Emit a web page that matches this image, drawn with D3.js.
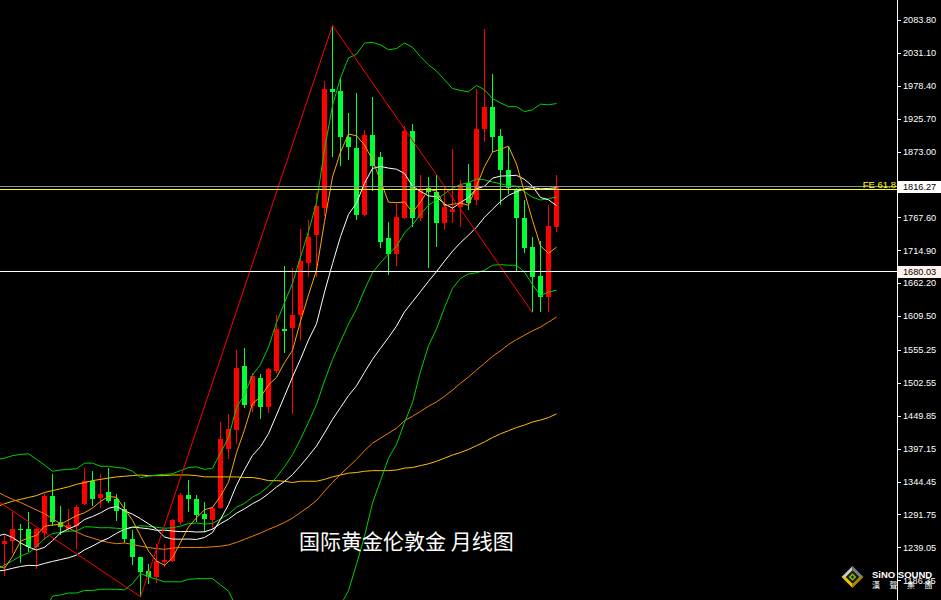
<!DOCTYPE html>
<html><head><meta charset="utf-8">
<script src="https://cdn.jsdelivr.net/npm/d3@7"></script>
<style>html,body{margin:0;padding:0;background:#000;overflow:hidden}</style>
</head><body>
<svg id="chart" width="941" height="600"></svg>
<script>
// ---- candle data (monthly, index 0..69) ----
const opens  = [1245,1249,1268,1268,1240,1262,1322,1279,1268,1273,1308,1346,1318,1327,1316,1300,1253,1224,1201,1192,1216,1218,1279,1323,1316,1292,1283,1302,1397,1427,1530,1465,1511,1464,1522,1589,1590,1611,1694,1740,1783,1974,1970,1897,1879,1772,1900,1864,1735,1709,1767,1906,1767,1815,1809,1758,1777,1785,1822,1795,1909,1944,1898,1844,1811,1766,1721,1673,1640,1753];
const highs  = [1261,1295,1276,1296,1270,1326,1357,1306,1300,1307,1366,1361,1357,1366,1325,1311,1267,1224,1212,1244,1245,1284,1326,1347,1323,1311,1304,1440,1453,1555,1558,1518,1516,1526,1611,1690,1687,1749,1764,1806,1986,2074,1991,1935,1967,1908,1960,1872,1761,1790,1914,1917,1835,1833,1835,1816,1877,1827,1853,1974,2070,1998,1910,1881,1815,1796,1736,1730,1788,1836];
const lows   = [1194,1230,1214,1232,1205,1251,1274,1259,1264,1236,1307,1306,1302,1310,1282,1246,1211,1160,1181,1182,1208,1216,1275,1295,1280,1264,1267,1300,1381,1405,1462,1456,1445,1454,1519,1550,1452,1571,1672,1672,1770,1864,1850,1860,1764,1770,1810,1718,1676,1690,1765,1752,1762,1687,1721,1747,1758,1753,1780,1787,1889,1873,1787,1805,1680,1710,1616,1616,1616,1745];
const closes = [1249,1268,1267,1239,1269,1321,1279,1271,1275,1303,1345,1316,1325,1313,1298,1253,1223,1200,1192,1218,1219,1283,1323,1316,1291,1284,1302,1412,1429,1527,1467,1513,1464,1524,1589,1585,1611,1697,1736,1786,1974,1969,1896,1881,1772,1900,1850,1729,1709,1768,1906,1767,1811,1809,1758,1785,1781,1820,1791,1909,1944,1897,1844,1814,1766,1718,1672,1640,1754,1816.27];

// ---- indicator lines (values for index -1..69) ----
const lineStart = -1;
const ma5  = [1211.2,1205.6,1224.6,1248.8,1254.4,1258.4,1272.8,1275,1275.8,1283,1289.8,1294.6,1302,1312.8,1320.4,1319.4,1301,1282.4,1257.4,1233.2,1217.2,1210.4,1222.4,1247,1271.8,1286.4,1299.4,1303.2,1321,1343.6,1390.8,1427.4,1469.6,1480,1499,1511.4,1535,1554.6,1601.2,1643.6,1683,1760.8,1832.4,1872.2,1901.2,1898.4,1883.6,1859.8,1826.4,1792,1791.2,1792.4,1775.8,1792.2,1812.2,1810.2,1786,1788.8,1790.6,1787,1817.2,1849,1872.2,1877,1881.6,1853,1807.8,1762.8,1722,1710,1720];
const ma10 = [1256.9,1260.3,1254.9,1246.5,1239.5,1234.8,1239.2,1249.8,1262.3,1268.7,1274.1,1283.7,1288.5,1294.3,1301.7,1304.6,1297.8,1292.2,1285.1,1276.8,1268.3,1255.7,1252.4,1252.2,1252.5,1251.8,1254.9,1262.8,1284,1307.7,1338.6,1363.4,1386.4,1400.5,1421.3,1451.1,1481.2,1512.1,1540.6,1571.3,1597.2,1647.9,1693.5,1736.7,1772.4,1790.7,1822.2,1846.1,1849.3,1846.6,1844.8,1838,1817.8,1809.3,1802.1,1800.7,1789.2,1782.3,1791.4,1799.6,1813.7,1817.5,1830.5,1833.8,1834.3,1835.1,1828.4,1817.5,1799.5,1795.8,1786.5];
const ma20 = [1203.1,1210.8,1217.6,1225.2,1230,1240.2,1253.2,1261.3,1262.9,1265,1265.5,1272,1271.7,1270.4,1270.6,1269.7,1268.5,1271,1273.7,1272.8,1271.2,1269.7,1270.5,1273.3,1277.1,1278.2,1276.4,1277.5,1284.6,1292.3,1303.5,1309.6,1319.4,1326.4,1336.9,1351.5,1368.1,1387.5,1412.3,1439.5,1467.9,1505.7,1540,1568.6,1596.9,1620.9,1651.7,1679.1,1695,1709,1721,1743,1755.7,1773,1787.3,1795.7,1805.7,1814.2,1820.4,1823.1,1829.3,1827.8,1824.2,1821.6,1818.2,1817.9,1808.8,1799.9,1795.5,1797.7,1800.1];
const ma30 = [1201.1,1202.4,1205.6,1208.5,1210.3,1209.8,1213.4,1216.6,1219.5,1222.4,1226.7,1235.1,1241.2,1248.2,1253.9,1261.7,1268.1,1271.6,1270.3,1268.9,1266.4,1266.6,1265.3,1264.3,1264.6,1263.7,1264,1268.3,1277.1,1284.4,1293.7,1300.9,1309.1,1315.7,1325.2,1335.8,1344.6,1355.7,1369.9,1385.3,1401.4,1422.3,1444.1,1463.1,1482.1,1497.9,1519.4,1540.3,1558,1575.2,1593.5,1616.4,1632.6,1648.8,1665.3,1680.8,1697.5,1713.5,1727.1,1739.2,1751.9,1767.8,1780.6,1793.3,1802.9,1808.8,1813.3,1815.3,1813.4,1814,1815];
const ma60 = [1329,1322,1316,1311,1305,1299,1293,1285,1277,1270,1264,1258,1254,1250,1247,1245,1246,1244,1241,1239,1237,1236,1238,1239,1239,1239,1239,1240,1241,1243,1247,1252,1257,1262,1268,1273,1279,1286,1295,1304,1314,1329,1343,1356,1368,1380,1394,1406,1414,1422,1430,1442,1449,1457,1465,1472,1481,1491,1502,1512,1523,1534,1545,1554,1564,1572,1579,1586,1592,1600,1608];
const ma100 = [1304,1309,1313,1316,1319,1322,1327,1330,1333,1336,1340,1343,1346,1348,1350,1352,1353,1354,1355,1354,1354,1354,1355,1355,1355,1354,1352,1352,1352,1352,1352,1351,1351,1349,1346,1346,1345,1343,1345,1345,1345,1348,1352,1355,1358,1359,1361,1362,1362,1362,1363,1366,1367,1370,1373,1377,1382,1387,1391,1396,1402,1408,1415,1421,1426,1431,1435,1440,1443,1447,1453];
const bbUpper = [1380,1382,1386,1388,1389,1380,1371,1361,1363,1364,1365,1374,1374,1369,1369,1367,1366,1361,1351,1353,1355,1356,1357,1362,1367,1368,1364,1366,1390,1415,1463,1484,1515,1532,1560,1599,1631,1662,1704,1745,1791,1876,1947,1991,2023,2029,2047,2048,2044,2036,2038,2047,2040,2025,2012,2002,1988,1974,1971,1969,1979,1972,1958,1951,1945,1945,1937,1940,1949,1948,1950];
const bbLower = [1026,1040,1049,1062,1071,1100,1136,1161,1163,1166,1166,1170,1170,1172,1172,1172,1171,1181,1197,1192,1188,1184,1184,1184,1188,1189,1189,1189,1179,1169,1143,1135,1124,1121,1114,1104,1105,1113,1121,1134,1145,1135,1133,1146,1170,1212,1257,1310,1346,1382,1404,1439,1471,1521,1562,1589,1623,1654,1670,1677,1679,1683,1691,1692,1691,1691,1680,1660,1642,1648,1651];

// ---- Fibonacci drawing (red zig-zag) ----
const feIndex = [-8, 17, 41, 66];
const feValue = [1375, 1160, 2075, 1615];
const feLevelValue = 1812;
const feLabel = "FE 61.8";

// ---- horizontal levels & axis ----
const bidPrice = 1816.27;
const supportPrice = 1680.03;
const tickValues = [2083.80,2031.10,1978.40,1925.70,1873.00,1767.60,1714.90,1662.20,1609.50,1555.25,1502.55,1449.85,1397.15,1344.45,1291.75,1239.05,1186.35];
const titleText = "国际黄金伦敦金 月线图";
const logoText = "SiNO SOUND";
const logoSub = ["漢","聲","集","團"];

// ---- drawing ----
const W = 941, H = 600, axisX = 897;
const svg = d3.select("#chart");
svg.append("rect").attr("width", W).attr("height", H).attr("fill", "#000");

const x = d3.scaleLinear().domain([0, 69]).range([4.5, 556.5]);
const y = d3.scaleLinear().domain([1186.35, 2083.8]).range([580.3, 20]);

svg.append("defs").append("clipPath").attr("id", "plot")
  .append("rect").attr("x", 0).attr("y", 0).attr("width", axisX).attr("height", H);
const plot = svg.append("g").attr("clip-path", "url(#plot)");

const UP = "#ff0000", DOWN = "#00ff33";
const candles = d3.range(closes.length).map(i => ({i, o: opens[i], h: highs[i], l: lows[i], c: closes[i]}));
const cg = plot.append("g");
cg.selectAll("line.wick").data(candles).join("line")
  .attr("x1", d => x(d.i)).attr("x2", d => x(d.i))
  .attr("y1", d => Math.round(y(d.h))).attr("y2", d => Math.round(y(d.l)))
  .attr("stroke", d => d.c >= d.o ? UP : DOWN).attr("stroke-width", 1)
  .attr("shape-rendering", "crispEdges");
cg.selectAll("rect.body").data(candles).join("rect")
  .attr("x", d => x(d.i) - 2.5).attr("width", 5)
  .attr("y", d => Math.round(y(Math.max(d.o, d.c))))
  .attr("height", d => Math.max(1, Math.round(y(Math.min(d.o, d.c))) - Math.round(y(Math.max(d.o, d.c)))))
  .attr("fill", d => d.c >= d.o ? UP : DOWN)
  .attr("shape-rendering", "crispEdges");

const lineGen = d3.line().x(d => x(d.i)).y(d => y(d.v));
function drawLine(values, color, width) {
  const pts = values.map((v, k) => ({i: k + lineStart, v}));
  plot.append("path").datum(pts).attr("d", lineGen)
    .attr("fill", "none").attr("stroke", color).attr("stroke-width", width || 1);
}
drawLine(ma100, "#ffbf00");
drawLine(ma60, "#f08000");
drawLine(bbUpper, "#00d200");
drawLine(bbLower, "#00d200");
drawLine(ma20, "#00d200");
drawLine(ma30, "#ffffff");
drawLine(ma10, "#ffffff");
drawLine(ma5, "#ffa500");

// Fibonacci zig-zag
const fePts = feIndex.map((k, j) => ({i: k, v: feValue[j]}));
plot.append("path").datum(fePts).attr("d", lineGen)
  .attr("fill", "none").attr("stroke", "#ff0000").attr("stroke-width", 1);

// horizontal levels
function hline(v, color) {
  const yy = Math.round(y(v)) - 0.5;
  plot.append("line").attr("x1", 0).attr("x2", axisX).attr("y1", yy).attr("y2", yy)
    .attr("stroke", color).attr("stroke-width", 1);
}
hline(bidPrice, "#8494a4");
hline(feLevelValue, "#ffff00");
hline(supportPrice, "#ffffff");

svg.append("text").attr("x", 896).attr("y", Math.round(y(feLevelValue)) - 2)
  .attr("text-anchor", "end").attr("fill", "#ffff00")
  .attr("font-family", "Liberation Sans, Arial, sans-serif").attr("font-size", 9.5)
  .text(feLabel);

// title
svg.append("text").attr("x", 299).attr("y", 549)
  .attr("fill", "#ffffff").attr("font-family", "Noto Sans CJK SC, sans-serif")
  .attr("font-size", 21).text(titleText);

// axis ticks & labels
const ax = svg.append("g");
ax.selectAll("line.tick").data(tickValues).join("line")
  .attr("x1", axisX).attr("x2", axisX + 4)
  .attr("y1", d => Math.round(y(d)) + 0.5).attr("y2", d => Math.round(y(d)) + 0.5)
  .attr("stroke", "#fff").attr("stroke-width", 1);
ax.selectAll("text.tick").data(tickValues).join("text")
  .attr("x", 903).attr("y", d => y(d)).attr("dy", "0.35em")
  .attr("fill", "#ffffff").attr("font-family", "Liberation Sans, Arial, sans-serif")
  .attr("font-size", 9.2).text(d => d.toFixed(2));

// price boxes
function priceBox(v, bg) {
  const yy = Math.round(y(v));
  ax.append("rect").attr("x", 898).attr("y", yy - 6).attr("width", 43).attr("height", 12).attr("fill", bg);
  ax.append("text").attr("x", 903).attr("y", yy).attr("dy", "0.35em")
    .attr("fill", "#000").attr("font-family", "Liberation Sans, Arial, sans-serif")
    .attr("font-size", 9.2).text(v.toFixed(2));
}
priceBox(bidPrice, "#ffffff");
priceBox(supportPrice, "#fff2ec");

// logo
const lg = svg.append("g");
const cx = 852.5, cy = 577, R = 11, r = 6.5;
const P = (dx, dy) => [cx + dx, cy + dy];
const faces = [
  {pts: [P(0,-R), P(-R,0), P(-r,0), P(0,-r)], c: "#c8c8c8"},
  {pts: [P(0,-R), P(R,0), P(r,0), P(0,-r)], c: "#7a7a7a"},
  {pts: [P(R,0), P(0,R), P(0,r), P(r,0)], c: "#a88400"},
  {pts: [P(-R,0), P(0,R), P(0,r), P(-r,0)], c: "#e6c200"}
];
faces.forEach(f => lg.append("polygon").attr("points", f.pts.map(p => p.join(",")).join(" ")).attr("fill", f.c));
lg.append("polygon").attr("points", [P(0,-r),P(r,0),P(0,r),P(-r,0)].map(p=>p.join(",")).join(" ")).attr("fill", "#1a1a1a");
lg.append("polygon").attr("points", [P(0,-3.8),P(3.8,0),P(0,3.8),P(-3.8,0)].map(p=>p.join(",")).join(" ")).attr("fill", "#7dc400");
lg.append("polygon").attr("points", [P(0,-1.8),P(1.8,0),P(0,1.8),P(-1.8,0)].map(p=>p.join(",")).join(" ")).attr("fill", "#1e2a00");
lg.append("text").attr("x", 872).attr("y", 578).attr("fill", "#fff")
  .attr("font-family", "Liberation Sans, Arial, sans-serif").attr("font-weight", "bold")
  .attr("font-size", 9.5).text(logoText);
lg.selectAll("text.sub").data(logoSub).join("text")
  .attr("x", (d, k) => 872 + k * 17.5).attr("y", 587.5).attr("fill", "#fff")
  .attr("font-family", "Noto Sans CJK TC, sans-serif").attr("font-size", 8).text(d => d);

// axis line on top
svg.append("line").attr("x1", axisX + 0.5).attr("x2", axisX + 0.5).attr("y1", 0).attr("y2", H)
  .attr("stroke", "#ffffff").attr("stroke-width", 1);
</script>
</body></html>
